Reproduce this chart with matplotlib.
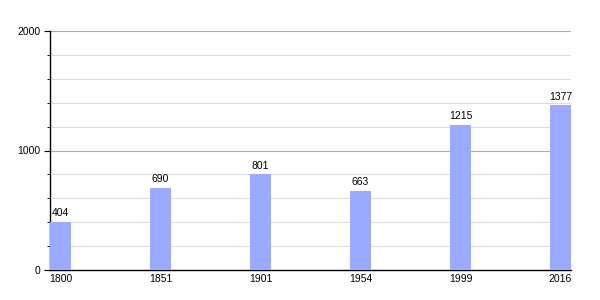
import matplotlib
matplotlib.use("Agg")
import matplotlib.pyplot as plt
from matplotlib.ticker import MultipleLocator

years = ["1800", "1851", "1901", "1954", "1999", "2016"]
population = [404, 690, 801, 663, 1215, 1377]

plt.rcParams['font.family'] = ['Liberation Sans', 'DejaVu Sans']

fig = plt.figure(figsize=(6, 3), dpi=100)
ax = fig.add_axes([50/600, 30/300, 521/600, 239/300])

pos = list(range(len(years)))
ax.bar(pos, population, width=0.21, color="#99aaff", zorder=3)
for x, v in zip(pos, population):
    ax.annotate(str(v), (x, v), xytext=(0, 2.5), textcoords="offset points",
                ha="center", va="bottom", fontsize=7.5)

ax.set_xlim(-0.105, len(years) - 1 + 0.105)
ax.set_ylim(0, 2000)
ax.set_xticks(pos)
ax.set_xticklabels(years)
ax.yaxis.set_major_locator(MultipleLocator(1000))
ax.yaxis.set_minor_locator(MultipleLocator(200))
ax.grid(axis="y", which="major", color="#aaaaaa", linewidth=0.8, zorder=0)
ax.grid(axis="y", which="minor", color="#dddddd", linewidth=0.8, zorder=0)

for s in ["top", "right"]:
    ax.spines[s].set_visible(False)
ax.spines["left"].set_linewidth(1)
ax.spines["bottom"].set_linewidth(1)
ax.tick_params(axis="y", which="major", length=4, labelsize=7.5, pad=3)
ax.tick_params(axis="y", which="minor", length=2)
ax.tick_params(axis="x", length=0, labelsize=7.5, pad=3)

fig.savefig("out.png")
